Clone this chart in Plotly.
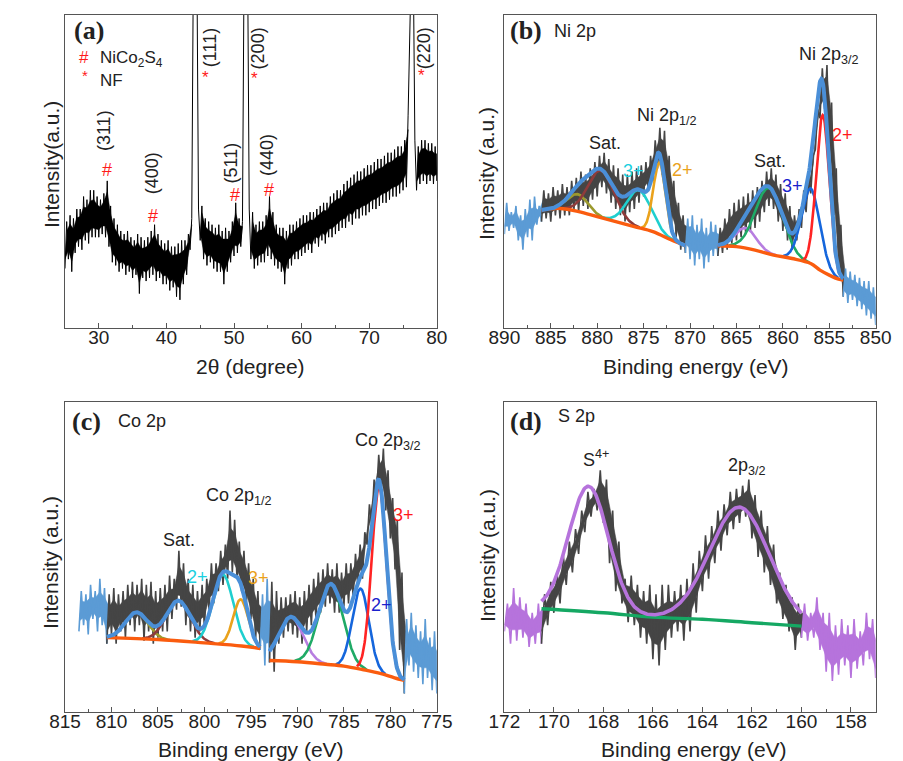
import numpy as np
import plotly.graph_objects as go

W, H = 903, 761

# ---------------- (a) XRD, envelope of the noisy trace (0-100 = bottom-top of panel) ----------------
xrd_2theta = np.arange(25.0, 80.001, 0.5)
xrd_upper = [34, 36, 35, 38, 38, 42, 41, 44, 44, 42,
             41, 43, 47, 39, 35, 33, 31, 30, 31, 29,
             28, 30, 29, 28, 29, 31, 33, 30, 28, 27,
             28, 26, 26, 27, 28, 28, 30, 35, 120, 38,
             39, 35, 34, 33, 32, 33, 31, 32, 31, 34,
             40, 35, 34, 120, 38, 37, 33, 34, 34, 36,
             42, 37, 33, 32, 32, 31, 33, 33, 34, 35,
             36, 36, 37, 37, 38, 39, 40, 40, 42, 43,
             44, 44, 46, 47, 48, 49, 50, 50, 51, 52,
             52, 53, 54, 54, 55, 56, 56, 57, 58, 58,
             60, 68, 120, 60, 58, 60, 60, 59, 59, 58,
             58]
xrd_lower = [19, 22, 18, 24, 26, 25, 28, 27, 29, 29,
             29, 30, 29, 26, 21, 20, 18, 19, 17, 18,
             16, 17, 11, 16, 15, 16, 17, 15, 16, 14,
             14, 12, 13, 10, 9, 14, 17, 25, 120, 120,
             28, 22, 20, 21, 19, 18, 18, 14, 18, 21,
             23, 24, 26, 120, 120, 22, 19, 20, 21, 21,
             23, 22, 20, 19, 18, 14, 19, 20, 22, 22,
             23, 24, 25, 24, 27, 26, 28, 27, 29, 29,
             30, 31, 32, 32, 34, 33, 35, 35, 36, 36,
             37, 38, 38, 39, 40, 40, 41, 42, 42, 43,
             44, 45, 120, 120, 44, 46, 47, 46, 47, 46,
             47]

# ---------------- (b) Ni 2p ----------------
ni_be = np.arange(890.0, 849.999, -0.5)
ni_upper = [40, 37, 39, 36, 38, 41, 42, 39, 44, 43,
            45, 44, 46, 45, 47, 48, 50, 49, 51, 53,
            55, 56, 54, 52, 51, 49, 49, 50, 51, 52,
            53, 55, 60, 64, 63, 55, 47, 40, 36, 35,
            36, 33, 35, 32, 34, 33, 32, 35, 38, 40,
            41, 42, 43, 44, 45, 47, 50, 51, 49, 46,
            43, 39, 36, 38, 44, 49, 55, 70, 83, 84,
            72, 51, 33, 19, 18, 17, 16, 15, 15, 13,
            12]
ni_lower = [30, 31, 32, 28, 25, 29, 28, 33, 34, 35,
            34, 36, 35, 36, 36, 38, 37, 39, 38, 41,
            42, 45, 43, 40, 38, 36, 34, 37, 38, 40,
            42, 44, 47, 51, 49, 42, 33, 29, 25, 24,
            22, 20, 22, 19, 21, 23, 23, 24, 25, 27,
            28, 29, 30, 31, 32, 34, 37, 39, 38, 34,
            31, 28, 25, 28, 32, 37, 43, 57, 67, 70,
            56, 36, 19, 10, 8, 9, 7, 6, 4, 3,
            1]
ni_fit_regions = [(886.0, 870.5), (867.0, 853.5)]
ni_base_x = [[886, 884, 882, 880, 878, 876, 874, 872, 870.5],
             [867, 865, 863, 861, 859, 857, 856, 855, 854, 853.5]]
ni_base_y = [[37.7, 38.2, 37.2, 35.6, 34.0, 32.4, 30.8, 28.1, 26.3],
             [26.3, 26.0, 24.9, 23.3, 22.2, 20.6, 18.5, 16.9, 15.6, 15.3]]
ni_centres = [[882.1, 879.6, 875.5, 873.3], [864.0, 861.5, 857.0, 855.7]]
ni_heights = [[5.5, 15.0, 12.0, 23.0], [6.5, 21.0, 24.0, 50.0]]
ni_sigmas = [[1.1, 1.4, 1.3, 0.65], [1.1, 1.45, 1.0, 0.7]]

# ---------------- (c) Co 2p ----------------
co_be = np.arange(813.5, 774.999, -0.5)
co_upper = [39, 38, 41, 39, 43, 40, 38, 40, 38, 39,
            41, 42, 41, 43, 41, 42, 39, 40, 41, 44,
            43, 52, 48, 43, 41, 39, 41, 43, 48, 48,
            52, 54, 65, 62, 55, 52, 48, 43, 39, 38,
            43, 42, 39, 37, 37, 38, 39, 37, 39, 41,
            43, 45, 46, 48, 46, 48, 45, 48, 48, 51,
            54, 58, 67, 75, 83, 85, 78, 69, 62, 45,
            30, 32, 28, 26, 30, 24, 26, 22]
co_lower = [26, 28, 25, 30, 26, 28, 22, 25, 22, 26,
            24, 28, 26, 28, 23, 26, 22, 24, 26, 26,
            30, 33, 34, 28, 26, 24, 26, 27, 33, 35,
            39, 41, 43, 45, 43, 39, 35, 30, 23, 20,
            15, 16, 13, 22, 24, 26, 25, 24, 22, 26,
            28, 30, 32, 34, 35, 32, 32, 34, 35, 37,
            41, 43, 54, 60, 69, 72, 65, 56, 46, 20,
            6, 15, 13, 11, 9, 11, 7, 6]
co_fit_regions = [(810.5, 794.0), (793.0, 778.5)]
co_base_x = [[810.5, 805, 800, 796, 794],
             [793, 790, 787, 785, 783, 781, 779, 778.5]]
co_base_y = [[24.0, 23.4, 22.3, 21.3, 20.5],
             [16.6, 16.2, 15.4, 14.8, 13.7, 12.4, 10.5, 10.2]]
co_centres = [[807.3, 802.8, 798.0, 796.1], [790.7, 786.4, 783.2, 781.2]]
co_heights = [[8.5, 13.0, 22.5, 15.0], [14.3, 26.0, 26.0, 60.0]]
co_sigmas = [[1.2, 1.3, 1.1, 0.8], [1.3, 1.3, 0.9, 0.8]]

# ---------------- (d) S 2p ----------------
s_be = np.arange(172.0, 156.999, -0.25)
s_upper = [35, 40, 37, 35, 32, 35, 38, 42, 45, 51,
           55, 59, 65, 71, 72, 78, 75, 65, 55, 43,
           44, 41, 39, 41, 38, 41, 41, 39, 41, 43,
           48, 52, 57, 60, 65, 67, 71, 72, 73, 75,
           70, 65, 60, 54, 45, 41, 37, 35, 35, 32,
           37, 32, 32, 28, 30, 28, 30, 26, 32, 30,
           23]
s_lower = [26, 22, 23, 24, 21, 22, 22, 28, 32, 35,
           41, 45, 51, 58, 63, 65, 61, 48, 39, 35,
           29, 28, 24, 22, 17, 15, 20, 24, 26, 23,
           26, 32, 39, 43, 48, 52, 57, 59, 61, 63,
           56, 50, 45, 41, 35, 30, 26, 20, 24, 23,
           24, 20, 13, 10, 12, 15, 11, 14, 15, 17,
           11]
s_fit_region = (170.5, 160.0)
s_base_x = [170.5, 168, 166, 164, 162, 160]
s_base_y = [33.3, 32.0, 30.6, 29.9, 28.8, 27.7]
s_centres = [168.6, 162.5]
s_heights = [40.5, 37.0]
s_sigmas = [0.8, 1.2]

# ---------------- styles ----------------
FONT = "Liberation Sans, Arial, sans-serif"
SERIF = "Liberation Serif, Times New Roman, serif"
GRAY = "#454545"
LBLUE = "#5b9bd5"
ENV = "#4a8fd8"
BG_ORANGE = "#fa5c0f"
NI_COLS = [["#9c9a2e", "#8e3b3b", "#1fcfcf", "#eaa21c"],
           ["#b77ee0", "#1faa66", "#1566dc", "#ff2424"]]
CO_COLS = NI_COLS
S_PURPLE = "#b673dc"
S_GREEN = "#15a863"
AX = "#555555"


def gauss(x, c, h, s):
    return h * np.exp(-0.5 * ((x - c) / s) ** 2)


fig = go.Figure()


def add_noisy(ax, x, lower, upper, pieces, width=1.6, core=0.25):
    """noisy trace: dense core band plus a zig-zag line whose spikes reach the envelope"""
    x = np.asarray(x, dtype=float)
    lower = np.asarray(lower, dtype=float)
    upper = np.asarray(upper, dtype=float)
    half = (x[1] - x[0]) / 2
    for a, b, col in pieces:
        lo_b, hi_b = min(a, b) - 1e-9, max(a, b) + 1e-9
        idx = np.where((x >= lo_b) & (x <= hi_b))[0]
        zx, zy = [], []
        for i in idx:
            zx += [x[i], x[i] + half]
            zy += [lower[i], upper[i]]
        if zx[-1] < lo_b or zx[-1] > hi_b:
            zx, zy = zx[:-1], zy[:-1]
        ok = (lower[idx] < 100) & (upper[idx] < 100)
        runs, cur = [], []
        for i, good in zip(idx, ok):
            if good:
                cur.append(i)
            elif cur:
                runs.append(cur)
                cur = []
        if cur:
            runs.append(cur)
        for r in runs:
            r = np.array(r)
            span = upper[r] - lower[r]
            c_lo = lower[r] + core * span
            c_hi = upper[r] - core * span
            px = list(x[r]) + list(x[r][::-1] + half)
            py = list(c_lo) + list(c_hi[::-1])
            fig.add_trace(go.Scatter(x=px, y=py, mode="lines", fill="toself", fillcolor=col,
                                     xaxis="x" + ax, yaxis="y" + ax,
                                     line=dict(color=col, width=0.5), showlegend=False,
                                     hoverinfo="skip"))
        fig.add_trace(go.Scatter(x=zx, y=zy, mode="lines", xaxis="x" + ax, yaxis="y" + ax,
                                 line=dict(color=col, width=width), showlegend=False,
                                 hoverinfo="skip"))


def add_fit(ax, region, bx, by, centres, heights, sigmas, cols, env_col, base_col, env_w=4):
    grid = np.linspace(region[0], region[1], 300)
    base = np.interp(grid, bx[::-1], by[::-1])
    total = base.copy()
    for c, h, s, col in zip(centres, heights, sigmas, cols):
        g = gauss(grid, c, h, s)
        total += g
        if col is None:
            continue
        m = np.abs(grid - c) <= 3.0 * s
        fig.add_trace(go.Scatter(x=grid[m], y=(base + g)[m], mode="lines",
                                 xaxis="x" + ax, yaxis="y" + ax,
                                 line=dict(color=col, width=2.6), showlegend=False,
                                 hoverinfo="skip"))
    fig.add_trace(go.Scatter(x=bx, y=by, mode="lines", line_shape="spline",
                             xaxis="x" + ax, yaxis="y" + ax,
                             line=dict(color=base_col, width=3.4), showlegend=False,
                             hoverinfo="skip"))
    fig.add_trace(go.Scatter(x=grid, y=total, mode="lines", xaxis="x" + ax, yaxis="y" + ax,
                             line=dict(color=env_col, width=env_w), showlegend=False,
                             hoverinfo="skip"))


# (a)
add_noisy("", xrd_2theta, xrd_lower, xrd_upper, [(25, 80.5, "#000000")], width=1.0, core=0.2)

# (b)
add_noisy("2", ni_be, ni_lower, ni_upper,
          [(890, 886, LBLUE), (886, 870.5, GRAY), (870.5, 867, LBLUE),
           (867, 853.5, GRAY), (853.5, 849.5, LBLUE)])
for i in range(2):
    add_fit("2", ni_fit_regions[i], ni_base_x[i], ni_base_y[i], ni_centres[i],
            ni_heights[i], ni_sigmas[i], NI_COLS[i], ENV, BG_ORANGE)

# (c)
add_noisy("3", co_be, co_lower, co_upper,
          [(813.5, 810.5, LBLUE), (810.5, 794, GRAY), (794, 793, LBLUE),
           (793, 778.5, GRAY), (778.5, 774.5, LBLUE)])
for i in range(2):
    add_fit("3", co_fit_regions[i], co_base_x[i], co_base_y[i], co_centres[i],
            co_heights[i], co_sigmas[i], CO_COLS[i], ENV, BG_ORANGE)

# (d)
add_noisy("4", s_be, s_lower, s_upper,
          [(172, 170.5, S_PURPLE), (170.5, 160, GRAY), (160, 156.8, S_PURPLE)])
add_fit("4", s_fit_region, s_base_x, s_base_y, s_centres, s_heights, s_sigmas,
        [None, None], S_PURPLE, S_GREEN, env_w=3.6)


# ---------------- layout ----------------
def dom_x(a, b):
    return [a / W, b / W]


def dom_y(top, bottom):
    return [1 - bottom / H, 1 - top / H]


def xaxis(dom, anchor, rng, dtick, minor):
    return dict(domain=dom, anchor=anchor, range=rng, dtick=dtick, tick0=0,
                ticks="inside", ticklen=5, tickwidth=1.2, tickcolor=AX,
                minor=dict(dtick=minor, tick0=0, ticks="inside", ticklen=3,
                           tickwidth=1.2, tickcolor=AX),
                showline=True, mirror=True, linecolor=AX, linewidth=1.3,
                showgrid=False, zeroline=False, ticklabelstandoff=-8,
                tickfont=dict(family=FONT, size=19, color="#222"))


def yaxis(dom, anchor):
    return dict(domain=dom, anchor=anchor, range=[0, 100], showticklabels=False,
                ticks="", showline=True, mirror=True, linecolor=AX, linewidth=1.3,
                showgrid=False, zeroline=False)


XL = dom_x(42.5, 428)
XR = dom_x(498, 883)
YT = dom_y(7, 320)
YB = dom_y(394, 704)

fig.update_layout(
    width=W, height=H, margin=dict(l=0, r=0, t=0, b=0),
    paper_bgcolor="white", plot_bgcolor="white",
    font=dict(family=FONT, color="#222"),
    xaxis=xaxis(XL, "y", [25, 80], 10, 5),
    yaxis=yaxis(YT, "x"),
    xaxis2=xaxis(XR, "y2", [890, 850], 5, 2.5),
    yaxis2=yaxis(YT, "x2"),
    xaxis3=xaxis(XL, "y3", [815, 775], 5, 2.5),
    yaxis3=yaxis(YB, "x3"),
    xaxis4=xaxis(XR, "y4", [172, 157], 2, 1),
    yaxis4=yaxis(YB, "x4"),
)

RED = "#ff1a1a"
ann = []


def txt(px, py, text, size=18, color="#222", anchor="center", angle=0, family=FONT):
    ann.append(dict(x=px / W, y=1 - py / H, xref="paper", yref="paper", text=text,
                    showarrow=False, xanchor=anchor, yanchor="middle", textangle=angle,
                    font=dict(family=family, size=size, color=color)))


# panel letters
for px, py, t in [(67, 23, "(a)"), (520, 23, "(b)"), (65, 413, "(c)"), (520, 413, "(d)")]:
    txt(px, py, "<b>%s</b>" % t, size=26, family=SERIF)

# axis titles
txt(235, 358, "2θ (degree)", size=21)
txt(697, 358, "Binding energy (eV)", size=21)
txt(235, 741, "Binding energy (eV)", size=21)
txt(695, 741, "Binding energy (eV)", size=21)
txt(28, 157, "Intensity(a.u.)", size=21, angle=-90)
txt(480, 165, "Intensity (a.u.)", size=21, angle=-90)
txt(27, 555, "Intensity (a.u.)", size=21, angle=-90)
txt(480, 547, "Intensity (a.u.)", size=21, angle=-90)

# (a) legend and reflections
txt(62, 50, "#", color=RED, size=17)
txt(77, 51, "NiCo<sub>2</sub>S<sub>4</sub>", anchor="left", size=17)
txt(63, 68, "*", color=RED, size=15)
txt(77, 72, "NF", anchor="left", size=17)
for px, py, t in [(83, 123, "(311)"), (133, 165, "(400)"), (193, 40, "(111)"),
                  (215, 155, "(511)"), (243, 40, "(200)"), (252, 147, "(440)"),
                  (415, 40, "(220)")]:
    txt(px, py, t, angle=-90)
for px, py in [(86, 162), (134, 208), (219, 187), (254, 182)]:
    txt(px, py, "#", color=RED)
for px, py in [(188, 70), (239, 71), (412, 68)]:
    txt(px, py, "*", color=RED, size=17)

# (b) labels
txt(547, 23, "Ni 2p", anchor="left")
txt(835, 47, "Ni 2p<sub>3/2</sub>")
txt(849, 127, "2+", color=RED)
txt(602, 135, "Sat.")
txt(667, 108, "Ni 2p<sub>1/2</sub>")
txt(632, 163, "3+", color="#1ad0e0")
txt(683, 162, "2+", color="#eaa21c")
txt(773, 153, "Sat.")
txt(797, 178, "3+", color="#1a22cc")

# (c) labels
txt(95, 413, "Co 2p", anchor="left")
txt(377, 433, "Co 2p<sub>3/2</sub>")
txt(393, 507, "3+", color=RED)
txt(223, 488, "Co 2p<sub>1/2</sub>")
txt(161, 532, "Sat.")
txt(180, 569, "2+", color="#1ad0e0")
txt(243, 570, "3+", color="#eaa21c")
txt(371, 597, "2+", color="#1a22cc")

# (d) labels
txt(552, 408, "S 2p", anchor="left")
txt(593, 450, "S<sup>4+</sup>")
txt(750, 458, "2p<sub>3/2</sub>")

fig.update_layout(annotations=ann)

fig.write_html("out.html")
